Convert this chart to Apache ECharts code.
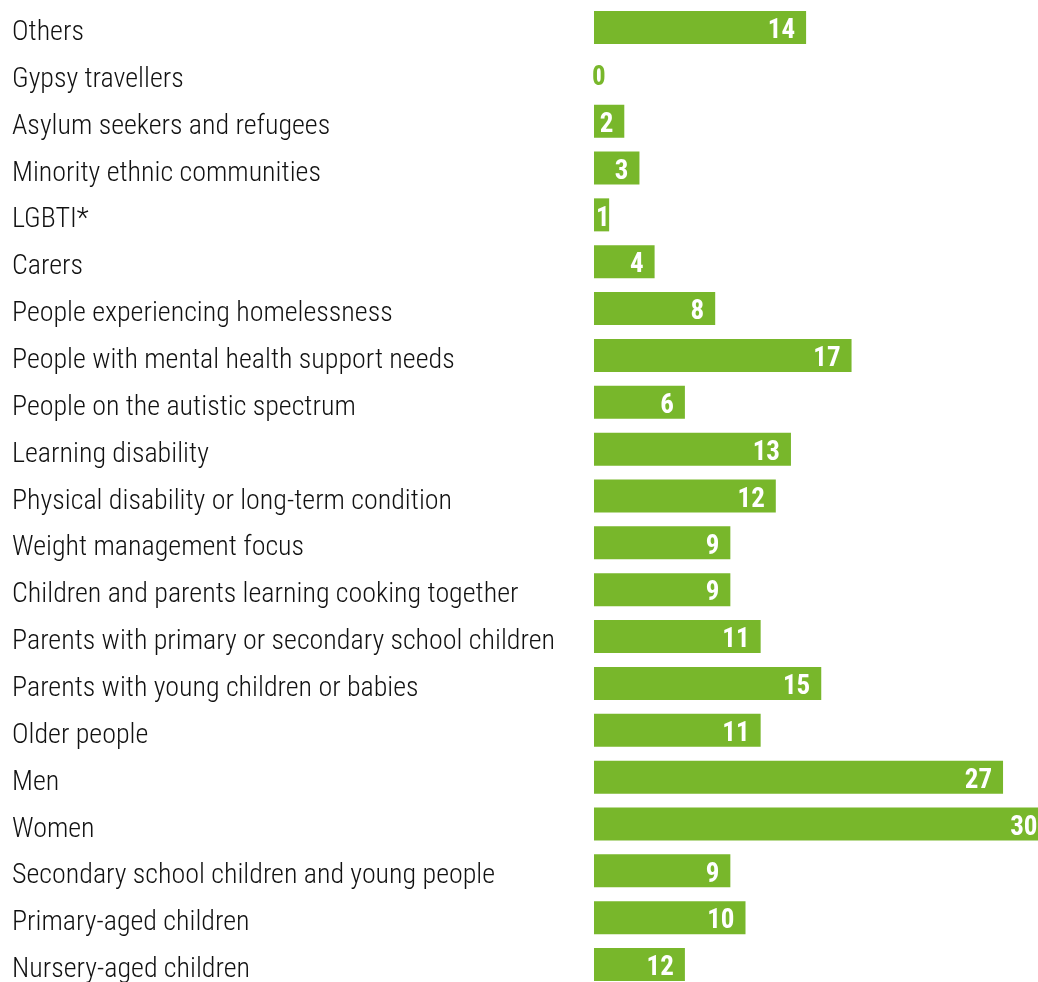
<!DOCTYPE html>
<html><head><meta charset="utf-8">
<script src="https://cdn.jsdelivr.net/npm/echarts@6/dist/echarts.min.js"></script>
<style>html,body{margin:0;padding:0;background:#fff}#chart{width:1038px;height:982px}</style>
</head><body>
<div id="chart"></div>
<script>
// Categories, top to bottom
const categories = [
  'Others',
  'Gypsy travellers',
  'Asylum seekers and refugees',
  'Minority ethnic communities',
  'LGBTI*',
  'Carers',
  'People experiencing homelessness',
  'People with mental health support needs',
  'People on the autistic spectrum',
  'Learning disability',
  'Physical disability or long-term condition',
  'Weight management focus',
  'Children and parents learning cooking together',
  'Parents with primary or secondary school children',
  'Parents with young children or babies',
  'Older people',
  'Men',
  'Women',
  'Secondary school children and young people',
  'Primary-aged children',
  'Nursery-aged children'
];
// Bar lengths as drawn in the reference
const values = [14, 0, 2, 3, 1, 4, 8, 17, 6, 13, 12, 9, 9, 11, 15, 11, 27, 30, 9, 10, 6];
// Value labels as printed in the reference
const valueLabels = ['14', '0', '2', '3', '1', '4', '8', '17', '6', '13', '12', '9', '9', '11', '15', '11', '27', '30', '9', '10', '12'];

const GREEN = '#78b72b';
const FONT = 'Roboto Condensed';

const data = values.map((v, i) => {
  const item = { value: v, labelText: valueLabels[i] };
  if (v === 0) {
    item.label = { position: [-2, '50%'], align: 'left', verticalAlign: 'middle' };
    item.zero = true;
  } else if (v === 1) {
    item.label = { position: [2, '50%'], align: 'left', verticalAlign: 'middle' };
  }
  return item;
});

const chart = echarts.init(document.getElementById('chart'), null, { renderer: 'canvas' });
chart.setOption({
  animation: false,
  backgroundColor: '#ffffff',
  grid: { left: 594, right: -10.5, top: 4, bottom: -6, outerBoundsMode: 'none', containLabel: false },
  xAxis: {
    type: 'value', min: 0, max: 30, show: false,
    splitLine: { show: false }
  },
  yAxis: {
    type: 'category', data: categories, inverse: true,
    axisLine: { show: false }, axisTick: { show: false }, splitLine: { show: false },
    axisLabel: {
      interval: 0, align: 'left', margin: 582,
      formatter: v => '{t|' + v + '}',
      rich: {
        t: { color: '#111111', fontSize: 28, fontWeight: 350, fontFamily: FONT, padding: [11, 0, 0, 0] }
      }
    }
  },
  series: [{
    type: 'bar',
    data: data,
    barWidth: 33,
    itemStyle: { color: GREEN },
    label: {
      show: true, position: 'insideRight', distance: 11,
      formatter: p => (p.data.zero ? '{g|' : '{w|') + p.data.labelText + '}',
      rich: {
        w: { color: '#ffffff', fontSize: 27, fontWeight: 'bold', fontFamily: FONT, padding: [8, 0, 0, 0] },
        g: { color: GREEN, fontSize: 27, fontWeight: 'bold', fontFamily: FONT, padding: [8, 0, 0, 0] }
      }
    }
  }]
});
</script>
</body></html>
